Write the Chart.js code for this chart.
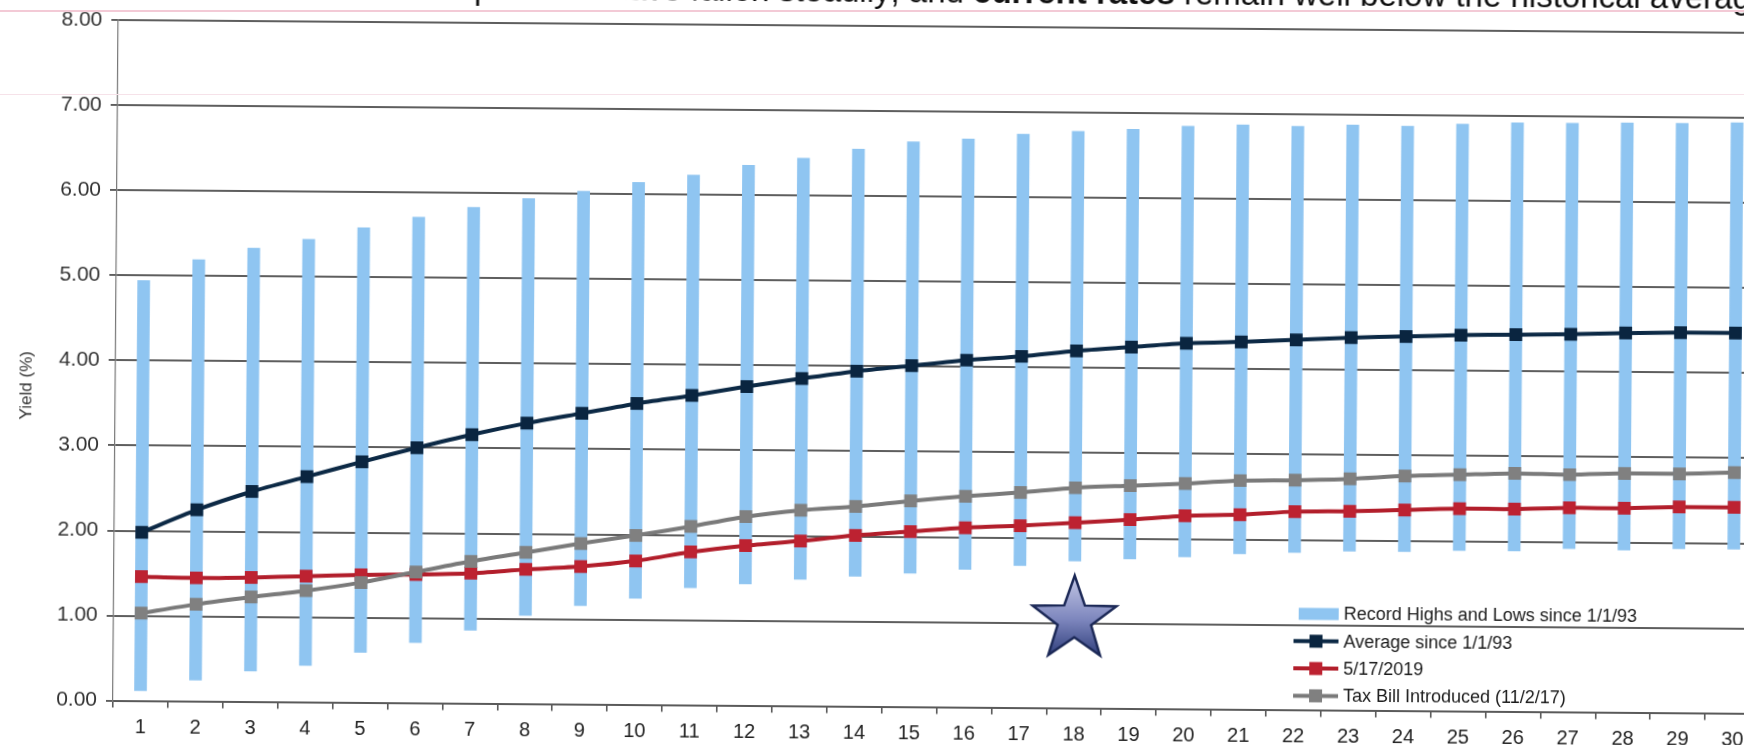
<!DOCTYPE html>
<html>
<head>
<meta charset="utf-8">
<script src="https://cdn.jsdelivr.net/npm/chart.js@4.4.1/dist/chart.umd.min.js"></script>
<style>
  html, body { margin: 0; padding: 0; background: #fff; overflow: hidden; width: 1744px; height: 745px; }
  /* the printed sheet sits a little askew */
  #sheet { position: absolute; left: 0; top: -60px; width: 1800px; height: 805px;
           transform-origin: 113px 760px; transform: rotate(0.45deg); }
  .rule { position: absolute; left: 0; width: 1744px; }
</style>
</head>
<body>
<div id="sheet"><canvas id="curve" width="1800" height="805"></canvas></div>
<div class="rule" style="top:10px;height:2px;background:#f3cad6"></div>
<div class="rule" style="top:94px;height:1px;background:#f6e2e9"></div>
<script>
// Maturity (years) along the curve
const maturities = ['1','2','3','4','5','6','7','8','9','10','11','12','13','14','15',
                    '16','17','18','19','20','21','22','23','24','25','26','27','28','29','30'];

// Record range since 1/1/93 (%)
const recordHighs = [4.94, 5.19, 5.33, 5.44, 5.58, 5.71, 5.83, 5.94, 6.03, 6.14,
                     6.23, 6.35, 6.44, 6.55, 6.64, 6.68, 6.74, 6.78, 6.81, 6.85,
                     6.87, 6.86, 6.88, 6.87, 6.90, 6.92, 6.92, 6.93, 6.93, 6.94];
const recordLows  = [0.12, 0.25, 0.36, 0.43, 0.59, 0.71, 0.86, 1.04, 1.16, 1.25,
                     1.38, 1.43, 1.49, 1.53, 1.57, 1.62, 1.67, 1.73, 1.76, 1.79,
                     1.83, 1.85, 1.87, 1.87, 1.89, 1.89, 1.92, 1.91, 1.93, 1.93];

// Yield curves (%)
const averageSince93 = [1.98, 2.25, 2.47, 2.65, 2.83, 3.00, 3.16, 3.30, 3.42, 3.54,
                        3.64, 3.75, 3.85, 3.94, 4.01, 4.08, 4.13, 4.20, 4.25, 4.30,
                        4.32, 4.35, 4.38, 4.40, 4.42, 4.43, 4.44, 4.46, 4.47, 4.47];
const curveMay2019   = [1.46, 1.45, 1.46, 1.48, 1.50, 1.51, 1.53, 1.58, 1.62, 1.69,
                        1.80, 1.88, 1.94, 2.01, 2.06, 2.11, 2.14, 2.18, 2.22, 2.27,
                        2.29, 2.33, 2.34, 2.36, 2.38, 2.38, 2.40, 2.40, 2.42, 2.42];
const curveTaxBill   = [1.03, 1.14, 1.23, 1.31, 1.41, 1.54, 1.67, 1.78, 1.89, 1.99,
                        2.10, 2.22, 2.30, 2.35, 2.42, 2.48, 2.53, 2.59, 2.62, 2.65,
                        2.69, 2.70, 2.72, 2.76, 2.78, 2.80, 2.79, 2.81, 2.81, 2.83];

// Y axis
const yMin = 0, yMax = 8, yStep = 1;
const yTitle = 'Yield (%)';

// Series names
const seriesNames = ['Record Highs and Lows since 1/1/93', 'Average since 1/1/93',
                     '5/17/2019', 'Tax Bill Introduced (11/2/17)'];

// Headline running across the top of the page
const headLead = 'Municipal rates have fallen steadily';
const headPlain1 = ', and ';
const headBold = 'current rates';
const headPlain2 = ' remain well below the historical average';

// Star marks the 18-year maturity
const starMaturity = '18';
const starLevel = 1.04;

const FONT = '"Liberation Sans", Arial, Helvetica, sans-serif';

const lineSeries = (label, data, line, mark, order) => ({
  type: 'line', label, data, order,
  borderColor: line, backgroundColor: mark, borderWidth: 4,
  pointStyle: 'rect', pointRadius: 9, pointBorderWidth: 0,
  pointBackgroundColor: mark, tension: 0.25, fill: false
});

function starPath(ctx, cx, cy, R, r) {
  ctx.beginPath();
  for (let k = 0; k < 10; k++) {
    const rad = k % 2 === 0 ? R : r;
    const a = -Math.PI / 2 + k * Math.PI / 5;
    const px = cx + rad * Math.cos(a), py = cy + rad * Math.sin(a);
    if (k === 0) ctx.moveTo(px, py); else ctx.lineTo(px, py);
  }
  ctx.closePath();
}

const decorations = {
  id: 'decorations',
  afterDatasetsDraw(chart) {
    const { ctx, chartArea, scales } = chart;
    ctx.save();

    // headline, mostly cut off by the page top
    ctx.fillStyle = '#111';
    ctx.textBaseline = 'alphabetic';
    ctx.font = '33px ' + FONT;
    const leadW = ctx.measureText(headLead).width;
    let x = 885 - leadW;
    const y = 56;
    ctx.fillText(headLead, x, y); x += leadW;
    ctx.fillText(headPlain1, x, y); x += ctx.measureText(headPlain1).width;
    ctx.font = 'bold 33px ' + FONT;
    ctx.fillText(headBold, x, y); x += ctx.measureText(headBold).width;
    ctx.font = '33px ' + FONT;
    ctx.fillText(headPlain2, x, y);

    // y axis title
    ctx.save();
    ctx.translate(24, 446);
    ctx.rotate(-Math.PI / 2);
    ctx.font = '17px ' + FONT;
    ctx.fillStyle = '#333';
    ctx.textAlign = 'center';
    ctx.textBaseline = 'middle';
    ctx.fillText(yTitle, 0, 0);
    ctx.restore();

    // star
    const sx = scales.x.getPixelForValue(maturities.indexOf(starMaturity));
    const sy = scales.y.getPixelForValue(starLevel);
    const R = 44;
    const grad = ctx.createLinearGradient(0, sy - R, 0, sy + R);
    grad.addColorStop(0, '#c4c8e6');
    grad.addColorStop(0.5, '#7d86bd');
    grad.addColorStop(1, '#1f2f6e');
    starPath(ctx, sx, sy, R, R * 0.4);
    ctx.fillStyle = grad;
    ctx.fill();
    ctx.lineWidth = 2.5;
    ctx.strokeStyle = '#1b2856';
    ctx.lineJoin = 'miter';
    ctx.stroke();

    // legend inside the plot, lower right
    const rows = [-96.1, -68.8, -41.5, -14.2];
    const swL = 1293, swR = 1338, textX = 1343;
    ctx.font = '18px ' + FONT;
    ctx.textBaseline = 'middle';
    ctx.textAlign = 'left';
    chart.data.datasets.forEach((ds, i) => {
      const ry = chartArea.bottom + rows[i];
      if (ds.type === 'bar') {
        ctx.fillStyle = ds.backgroundColor;
        ctx.fillRect(swL + 5, ry - 6, swR - swL - 5, 12);
      } else {
        ctx.strokeStyle = ds.borderColor;
        ctx.lineWidth = 4;
        ctx.beginPath(); ctx.moveTo(swL, ry); ctx.lineTo(swR, ry); ctx.stroke();
        ctx.fillStyle = ds.pointBackgroundColor;
        ctx.fillRect((swL + swR) / 2 - 6.5, ry - 6.5, 13, 13);
      }
      ctx.fillStyle = '#1a1a1a';
      ctx.fillText(ds.label, textX, ry + 1);
    });
    ctx.restore();
  }
};

new Chart(document.getElementById('curve'), {
  type: 'bar',
  data: {
    labels: maturities,
    datasets: [
      {
        type: 'bar', label: seriesNames[0], order: 10,
        data: maturities.map((_, i) => [recordLows[i], recordHighs[i]]),
        backgroundColor: '#8fc5f1', borderWidth: 0, barThickness: 12
      },
      lineSeries(seriesNames[1], averageSince93, '#0c2945', '#0a2540', 1),
      lineSeries(seriesNames[2], curveMay2019, '#b21e2b', '#bd2231', 3),
      lineSeries(seriesNames[3], curveTaxBill, '#7a7a7a', '#808080', 2)
    ]
  },
  options: {
    responsive: false,
    animation: false,
    events: [],
    layout: { padding: { top: 80, right: 40, bottom: 0, left: 0 } },
    plugins: { legend: { display: false }, tooltip: { enabled: false }, title: { display: false } },
    scales: {
      x: {
        offset: true,
        grid: { offset: true, drawOnChartArea: false, tickLength: 7, color: '#5a5a5a', lineWidth: 1.6 },
        border: { display: true, color: '#5a5a5a', width: 1.8 },
        ticks: { font: { family: FONT, size: 20 }, color: '#222', padding: 8, maxRotation: 0, autoSkip: false },
        afterFit(scale) { scale.height = 44.4; }
      },
      y: {
        min: yMin, max: yMax,
        ticks: { stepSize: yStep, callback: v => v.toFixed(2), font: { family: FONT, size: 21 }, color: '#333', padding: 9 },
        grid: { color: '#5e5e5e', lineWidth: 1.9, tickLength: 7 },
        border: { display: true, color: '#777', width: 1.2 },
        afterFit(scale) { scale.width = 113; }
      }
    }
  },
  plugins: [decorations]
});
</script>
</body>
</html>
